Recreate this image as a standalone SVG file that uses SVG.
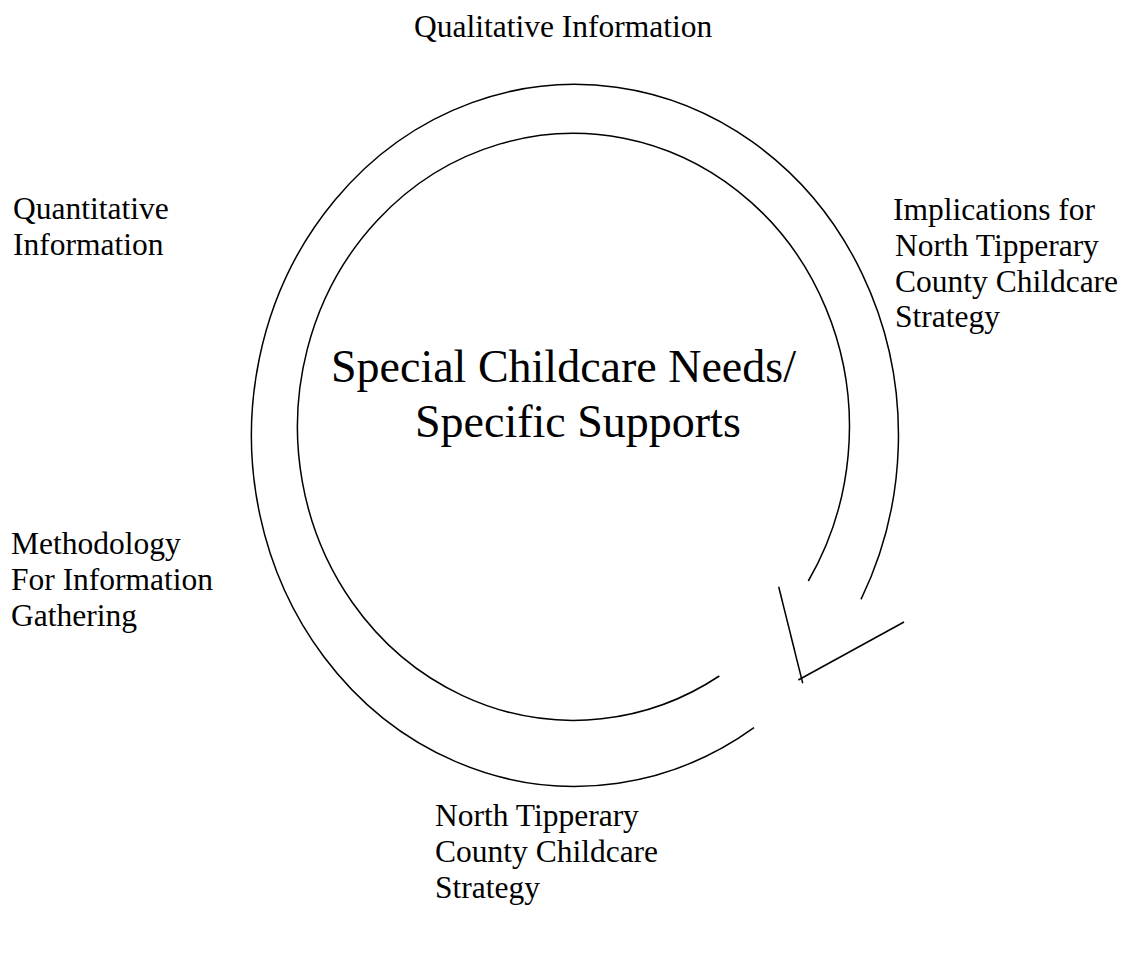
<svg xmlns="http://www.w3.org/2000/svg" width="1128" height="967" viewBox="0 0 1128 967">
  <style>
    .lbl { font-family: "Liberation Serif", "Times New Roman", serif; font-size: 31.5px; fill: #000; }
    .title { font-family: "Liberation Serif", "Times New Roman", serif; font-size: 46px; fill: #000; }
    .edge { fill: none; stroke: #000; stroke-width: 1.5; }
  </style>
  <rect width="1128" height="967" fill="#fff"/>

  <!-- circular arrow: two open elliptical arcs plus an open arrowhead -->
  <g id="connectors">
    <path class="edge" d="M719.3,676 A276,293.5 0 1 1 808.3,581"/>
    <path class="edge" d="M754,727.7 A323.5,351 0 1 1 861,599.3"/>
    <line class="edge" x1="778.7" y1="586.7" x2="802.7" y2="683.3"/>
    <line class="edge" x1="798.3" y1="680" x2="904" y2="622"/>
  </g>

  <g id="centre">
    <text class="title" x="331" y="382">Special Childcare Needs/</text>
    <text class="title" x="415" y="437">Specific Supports</text>
  </g>

  <g id="qualitative">
    <text class="lbl" x="414" y="37">Qualitative Information</text>
  </g>

  <g id="quantitative">
    <text class="lbl" x="13" y="219">Quantitative</text>
    <text class="lbl" x="13" y="255">Information</text>
  </g>

  <g id="implications">
    <text class="lbl" x="893" y="220">Implications for</text>
    <text class="lbl" x="895" y="256">North Tipperary</text>
    <text class="lbl" x="895" y="292">County Childcare</text>
    <text class="lbl" x="895" y="327">Strategy</text>
  </g>

  <g id="methodology">
    <text class="lbl" x="11" y="554">Methodology</text>
    <text class="lbl" x="11" y="590">For Information</text>
    <text class="lbl" x="11" y="626">Gathering</text>
  </g>

  <g id="strategy">
    <text class="lbl" x="435" y="826">North Tipperary</text>
    <text class="lbl" x="435" y="862">County Childcare</text>
    <text class="lbl" x="435" y="898">Strategy</text>
  </g>
</svg>
